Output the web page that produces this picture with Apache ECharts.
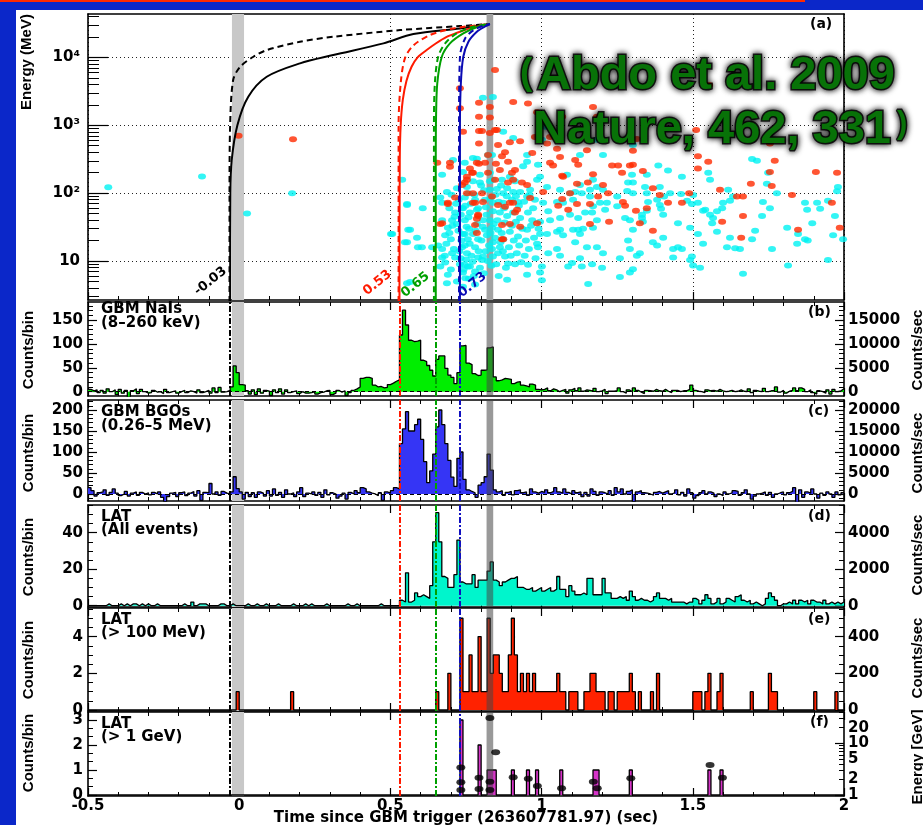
<!DOCTYPE html>
<html><head><meta charset="utf-8">
<script src="https://cdn.jsdelivr.net/npm/echarts@6/dist/echarts.min.js"></script>
<style>html,body{margin:0;padding:0;background:#0b27c9;overflow:hidden}#c{width:923px;height:825px}</style>
</head><body><div id="c"></div>
<script>
// ---------------- DATA ----------------
const X_MIN = -0.5, X_MAX = 2.0, BIN_W = 0.01, NBIN = 250;
const xTitle = 'Time since GBM trigger (263607781.97) (sec)';

// Panel (a): photon arrival time (s) vs energy (MeV)
const redPhotons = [[-0.002,700],[0.178,620],[0.846,6500],[1.554,3900],[1.17,1850],[1.183,1330],[1.068,1330],[0.906,2200],[0.955,2100],[0.985,1550],[0.829,1850],[0.829,1300],[0.793,2150],[0.793,1330],[1.511,850],[0.829,770],[0.852,850],[0.793,820],[0.793,540],[0.856,510],[0.895,560],[0.929,580],[0.978,670],[1.028,670],[1.018,540],[1.315,630],[1.302,420],[1.051,450],[1.15,430],[1.755,540],[1.517,350],[1.551,290],[1.771,300],[1.755,205],[1.907,205],[1.977,200],[1.517,230],[1.59,112],[1.646,89],[1.666,89],[1.692,138],[1.761,128],[1.828,94],[1.96,72],[1.488,100],[1.464,72],[1.418,72],[1.597,38],[1.666,46],[1.66,22],[1.848,29],[1.986,31],[1.391,94],[1.368,118],[1.335,212],[1.302,261],[1.292,255],[1.266,200],[1.233,255],[1.253,255],[1.17,190],[1.153,143],[1.203,132],[1.22,100],[1.187,89],[1.117,138],[1.094,100],[1.068,82],[1.055,65],[1.117,69],[1.088,57],[1.16,69],[1.269,74],[1.276,65],[1.312,55],[1.348,60],[1.325,36],[1.368,28],[1.223,38],[1.16,35],[1.061,340],[1.111,309],[1.121,261],[1.028,280],[1.038,255],[1.068,180],[1.071,175],[1.005,104],[0.962,85],[0.935,143],[0.952,132],[0.889,143],[0.902,200],[0.912,220],[0.889,290],[0.869,350],[0.849,270],[0.862,220],[0.813,280],[0.793,270],[0.763,230],[0.773,200],[0.753,175],[0.746,143],[0.753,100],[0.773,100],[0.803,100],[0.836,89],[0.895,72],[0.856,67],[0.879,63],[0.912,52],[0.919,57],[0.773,72],[0.790,46],[0.780,34],[0.869,34],[0.895,35],[0.929,32],[0.873,21],[0.985,36],[0.740,800],[0.803,820],[0.846,850],[0.969,390],[0.879,400],[0.823,366],[0.786,280],[0.697,280],[0.655,280],[0.697,245],[0.770,200],[0.753,157],[0.737,132],[0.823,200],[0.846,157],[0.906,157],[0.714,86],[0.690,72],[0.780,72],[0.806,74],[0.906,72],[0.790,48],[0.786,42],[0.671,36],[0.786,26],[0.869,21],[0.730,3500],[0.730,1780],[0.665,35],[0.690,69]];
const cyanPhotons = [[-0.433,122],[-0.123,176],[0.175,100],[0.026,50],[0.502,25],[0.539,157],[0.555,69],[0.555,19],[0.591,16],[0.506,25],[0.559,29],[0.555,4.7],[0.588,22],[0.607,60],[0.565,29],[0.548,19],[0.604,16],[0.638,16],[0.658,17],[0.671,15],[0.671,11.3],[0.681,9.5],[0.665,8.3],[0.690,6.3],[0.687,4.7],[0.565,4.9],[0.704,13],[0.714,11.3],[0.681,24],[0.690,31],[0.704,40],[0.671,40],[0.714,52],[0.737,60],[0.746,25],[0.737,16],[0.756,8.3],[0.780,7],[0.803,10.4],[0.746,86],[0.786,320],[0.707,309],[0.671,186],[0.687,104],[0.720,118],[0.671,72],[0.665,86],[0.555,67],[0.72,5],[0.74,4.2],[0.76,5.5],[0.78,4.5],[0.70,7.5],[0.73,9],[0.68,12],[0.75,10.5],[0.71,15],[0.735,20],[0.76,30],[0.72,35],[0.70,21],
[0.806,2550],[0.839,2600],[1.012,950],[0.873,800],[0.906,650],[1.183,610],[1.302,510],[1.001,610],[1.127,366],[1.203,366],[0.836,366],[0.952,366],[1.386,255],[1.418,215],[1.464,175],[1.348,186],[1.302,143],[1.696,318],[1.712,300],[1.749,200],[1.745,138],[1.778,100],[1.98,123],[1.977,107],[1.947,77],[1.871,72],[1.911,72],[1.921,59],[1.878,57],[1.97,46],[1.895,36],[1.812,31],[1.848,25],[1.845,18],[1.871,21],[1.88,20],[1.964,24],[1.997,21],[1.947,10.4],[1.815,8.6],[1.762,15],[1.732,74],[1.755,60],[1.729,46],[1.706,28],[1.656,15],[1.666,6.5],[1.613,16],[1.64,15.5],[1.623,22],[1.696,21],[1.58,27],[1.564,36],[1.597,60],[1.6,72],[1.623,77],[1.633,89],[1.617,112],[1.58,54],[1.567,43],[1.541,57],[1.517,72],[1.497,69],[1.491,31],[1.517,25],[1.534,18],[1.497,11.7],[1.501,8.6],[1.524,8],[1.491,10.4],[1.464,15],[1.451,16],[1.435,11.3],[1.402,22],[1.382,17],[1.368,19],[1.348,55],[1.332,43],[1.402,48],[1.405,89],[1.425,100],[1.461,97],[1.391,67],[1.395,59],[1.335,38],[1.292,40],[1.276,43],[1.302,29],[1.286,20],[1.292,15],[1.302,7.6],[1.292,6.8],[1.259,5.8],[1.315,12],[1.325,13],[1.259,11],[1.203,13],[1.2,8],[1.167,9],[1.154,4.6],[1.133,8.3],[1.127,11],[1.088,8.3],[1.101,9.4],[1.061,12],[1.051,15],[1.022,13],[0.995,6.8],[1.001,5.2],[1.001,8.3],[0.955,8.8],[0.952,6.3],[0.912,9],[0.886,5.3],[0.879,11.7],[0.889,9.2],[0.856,13],[0.862,16],[0.836,15],[0.839,11.7],[0.806,11.7],[0.790,11.3],[0.780,16],[0.763,8.3],[0.746,8.8],[0.753,13],[0.740,6.8],[0.746,17],[0.740,25],[0.756,21],[0.790,21],[0.773,25],[0.819,24],[0.839,19],[0.813,29],[0.836,31],[0.856,29],[0.895,27],[0.873,21],[0.922,23],[0.952,29],[0.995,25],[0.988,16],[0.985,18],[1.018,25],[1.051,27],[1.061,29],[1.071,24],[1.104,29],[1.111,19],[1.121,29],[1.127,25],[1.15,16],[1.183,16],[1.17,31],[1.137,30],[1.183,40],[1.167,52],[1.144,52],[1.121,43],[1.094,48],[1.061,43],[1.022,54],[1.028,40],[0.995,38],[0.969,40],[0.955,52],[0.929,43],[0.906,52],[0.886,46],[0.862,52],[0.839,54],[0.829,40],[0.806,40],[0.786,57],[0.763,52],[0.746,40],[0.740,60],[0.780,80],[0.813,80],[0.839,72],[0.873,72],[0.902,80],[0.922,74],[0.952,89],[0.972,60],[1.005,72],[1.051,74],[1.071,72],[1.104,80],[1.133,100],[1.16,89],[1.17,64],[1.193,72],[1.216,72],[1.21,57],[1.25,89],[1.283,108],[1.302,100],[1.348,100],[1.25,64],[1.094,100],[1.111,104],[1.061,112],[1.018,123],[0.995,175],[0.985,157],[0.962,112],[0.929,104],[0.906,104],[0.886,118],[0.873,100],[0.852,115],[0.829,112],[0.829,150],[0.796,143],[0.839,157],[0.869,157],[0.895,175],[0.912,150],[0.939,250],[0.952,290],[0.988,261],[0.829,200],[0.796,186],[0.773,150],[0.753,123],[0.740,205],[0.773,330],[0.823,366],[0.746,280],[1.084,186],[1.127,132],[1.17,157],[1.183,123],[1.16,112],[1.203,112],[1.286,143],[1.342,123],[1.391,123],[1.299,186],[1.352,74],[1.382,80],[1.481,77],[1.451,36],[1.435,15],[1.501,94],[1.534,55],[1.557,48],[1.551,200],[1.557,157],[1.332,48],
[0.685,18],[0.695,26],[0.705,33],[0.712,45],[0.725,28],[0.728,14],[0.732,11],[0.742,7.5],[0.748,5.6],[0.752,32],[0.758,44],[0.762,18],[0.768,12],[0.772,9.8],[0.776,6],[0.782,28],[0.786,35],[0.792,14],[0.796,8],[0.801,20],[0.805,32],[0.809,6.6],[0.815,14],[0.818,48],[0.822,10],[0.826,17],[0.831,26],[0.834,8.5],[0.842,35],[0.846,22],[0.85,9],[0.854,40],[0.858,6],[0.864,19],[0.868,26],[0.872,14],[0.878,37],[0.882,8],[0.892,16],[0.898,12],[0.902,33],[0.908,20],[0.915,38],[0.918,13],[0.926,17],[0.932,9.6],[0.936,30],[0.944,12],[0.948,20],[0.958,15],[0.965,33],[0.975,22],[0.98,11],[0.99,30],[0.695,60],[0.702,95],[0.717,70],[0.726,80],[0.733,48],[0.748,65],[0.758,100],[0.766,70],[0.778,95],[0.79,60],[0.80,130],[0.81,110],[0.816,62],[0.832,85],[0.848,95],[0.858,75],[0.866,130],[0.876,60],[0.885,90],[0.915,90],[0.925,65],[0.942,75],[0.96,95],[0.978,80]];

// Panel (a): delay curves [time, energy MeV]
const curveBlackSolid = [[-0.03,2.5],[-0.029,100],[-0.025,300],[-0.006,1000],[0.030,2630],[0.091,5180],[0.201,8160],[0.311,10800],[0.477,16060],[0.576,22000],[0.730,26700],[0.829,31000]];
const curveBlackDash  = [[-0.032,2.5],[-0.032,100],[-0.03,1000],[-0.02,4640],[0.003,7260],[0.047,10200],[0.091,12800],[0.201,16960],[0.311,20100],[0.532,25200],[0.730,28900],[0.829,31000]];
const curveRedSolid   = [[0.53,2.5],[0.531,300],[0.534,1000],[0.541,2360],[0.553,4500],[0.570,7260],[0.590,10000],[0.620,12800],[0.650,16000],[0.686,20000],[0.72,23000],[0.763,26700],[0.829,31000]];
const curveRedDash    = [[0.527,2.5],[0.527,1000],[0.534,4140],[0.548,9660],[0.576,15000],[0.631,21300],[0.708,26700],[0.829,31000]];
const curveGreenSolid = [[0.650,2.5],[0.650,300],[0.651,1330],[0.655,4140],[0.670,10200],[0.697,16060],[0.741,22500],[0.785,27700],[0.829,31000]];
const curveGreenDash  = [[0.644,2.5],[0.644,1000],[0.647,4140],[0.658,10200],[0.681,16060],[0.719,22500],[0.774,28300],[0.829,31000]];
const curveBlueSolid  = [[0.730,2.5],[0.730,1000],[0.733,4140],[0.741,10200],[0.758,17000],[0.785,23600],[0.813,28500],[0.829,31000]];
const curveBlueDash   = [[0.727,2.5],[0.727,1000],[0.730,10200],[0.747,19000],[0.774,25000],[0.807,29200],[0.829,31000]];

// Panels (b)-(d): counts per 0.01 s bin, bins start at -0.5
const gbmNaI = [5,2,4,-2,3,-3,6,0,4,-6, 5,-3,3,-12,2,6,-4,5,0,-3, -2,3,-1,0,-4,5,-2,0,2,-3, 0,3,-2,2,0,-3,4,-2,0,3, -3,8,-2,9,-1,0,3,10,54,40, 15,14,2,-5,4,-6,6,-3,3,1, -8,4,-2,6,-5,4,-2,0,2,-4, 0,-3,-3,-2,0,-5,-2,-1,2,3, -6,-3,3,-1,2,-8,-2,3,6,10, 28,30,30,28,14,10,11,8,9,15, 18,22,25,119,171,140,108,105,106,108, 66,63,55,45,33,68,75,75,49,35, 30,17,40,96,97,60,57,38,34,35, 45,46,92,94,31,23,25,28,27,26, 17,20,21,14,12,10,16,14,5,4, 5,8,2,6,4,0,3,5,-3,4, 7,2,8,1,4,3,1,7,0,2, 5,-4,1,1,2,8,0,-3,4,0, 8,3,-1,-4,3,2,1,5,2,1, 5,1,-2,3,3,0,2,2,5,14, 3,1,0,-2,4,2,3,1,5,2, 0,1,3,0,1,4,1,0,6,-2, 3,1,0,7,0,2,2,10,-1,3, -3,1,3,8,2,8,5,0,4,-2, -5,2,0,-3,4,-5,5,0,2,6];
const gbmBGO = [15,8,-5,3,5,10,-3,4,12,2, -4,0,6,-5,2,5,-3,4,0,3, -2,4,0,5,-8,-18,-6,2,4,-6, 3,5,-4,2,6,-5,8,-15,4,3, 25,0,5,-3,6,2,0,5,41,13, 5,-12,4,-6,3,-8,5,2,-5,8, -5,12,-3,4,-8,10,0,3,-6,5, 15,-6,2,0,5,-3,4,-8,10,-2, 3,0,-10,-5,2,-12,4,0,8,3, 15,12,5,2,0,-4,3,-15,5,2, 8,15,12,120,155,196,150,150,165,178, 130,77,27,55,95,160,200,165,120,80, 40,18,85,100,35,10,6,3,-8,21, 27,41,95,57,10,5,8,-3,4,6, -2,8,10,3,5,-3,12,5,2,6, 4,10,3,6,15,5,2,12,4,0, 8,3,5,-6,4,-5,12,6,-3,5, 3,0,8,-3,15,5,12,0,6,10, -18,5,8,3,2,0,-3,4,6,2, 5,8,0,3,10,-2,4,-5,12,3, -10,-4,3,8,0,5,2,-6,0,-4, 5,0,3,8,6,-3,3,10,0,-12, -5,0,2,5,-3,4,-8,0,3,5, -2,3,6,15,-20,10,-8,5,2,12, 0,-10,2,-3,5,0,-8,5,-2,3];
const latAll = [0,0,0,0,0,0,1,0,0,0, 1,0,1,0,1,1,0,1,0,1, 0,0,1,0,0,0,0,0,0,0, 0,1,0,0,2,0,1,1,1,0, 0,0,0,1,1,0,0,1,0,0, 0,0,1,0,0,1,0,0,1,0, 0,0,1,0,0,0,0,1,0,0, 0,1,0,1,0,0,0,0,1,0, 0,0,0,0,0,1,0,0,1,0, 0,0,0,0,0,0,1,0,0,0, 0,0,0,3,2,18,2,3,7,5, 6,5,4,11,35,51,35,16,15,10, 10,17,36,13,12,12,12,17,10,14, 14,14,19,24,14,13,11,13,14,15, 15,16,10,10,9,9,10,8,9,10, 8,9,10,8,9,16,9,9,5,11, 8,6,6,7,6,15,15,6,6,6, 15,7,7,4,4,5,4,5,3,8, 5,3,4,3,3,2,3,5,7,4, 4,3,4,2,2,2,2,1,2,2, 4,3,1,3,6,4,1,2,4,1, 2,4,3,2,5,6,3,2,3,1, 2,1,0,1,4,7,5,3,0,1, 1,2,1,3,1,3,2,3,1,3, 2,2,1,3,1,2,1,2,1,2];
// Panels (e),(f): non-empty bins [bin start (s), counts]
const lat100 = [[-0.01,1],[0.17,1],[0.65,1],[0.69,2],[0.73,5],[0.74,1],[0.75,1],[0.76,3],[0.77,1],[0.78,1],[0.79,4],[0.80,1],[0.81,1],[0.82,5],[0.83,2],[0.84,3],[0.85,3],[0.86,2],[0.87,1],[0.88,1],[0.89,3],[0.90,5],[0.91,3],[0.92,1],[0.93,2],[0.94,1],[0.95,2],[0.96,1],[0.97,2],[0.98,1],[0.99,1],[1.00,1],[1.01,1],[1.02,1],[1.03,1],[1.04,1],[1.05,2],[1.06,1],[1.07,1],[1.09,1],[1.10,1],[1.11,1],[1.14,1],[1.15,1],[1.16,2],[1.17,2],[1.18,1],[1.19,1],[1.20,1],[1.22,1],[1.23,1],[1.25,1],[1.26,1],[1.27,1],[1.28,1],[1.29,2],[1.30,1],[1.32,1],[1.36,1],[1.38,2],[1.50,1],[1.51,1],[1.52,1],[1.54,1],[1.55,2],[1.58,1],[1.59,2],[1.69,1],[1.75,2],[1.76,1],[1.77,1],[1.90,1],[1.97,1]];
const lat1GeV = [[0.73,3],[0.79,2],[0.82,1],[0.83,1],[0.84,1],[0.90,1],[0.95,1],[0.98,1],[1.06,1],[1.17,1],[1.18,1],[1.29,1],[1.55,1],[1.59,1]];
// Panel (f) photon energies [time s, energy GeV]
const gevPhotons = [[0.733,3.4],[0.733,1.76],[0.733,1.25],[0.793,2.16],[0.793,1.3],[0.829,31],[0.829,1.8],[0.829,1.25],[0.848,6.7],[0.906,2.2],[0.956,2.05],[0.986,1.5],[1.066,1.35],[1.171,1.8],[1.184,1.35],[1.295,2.1],[1.557,3.8],[1.598,2.16]];

// reference times / bands
const refLines = [[-0.03,'#000000'],[0.53,'#ff1a00'],[0.65,'#00a000'],[0.73,'#1010c0']];
const lightBand = [-0.024, 0.016];
const darkBand = [0.818, 0.840];

// tick values
const aMajor = [10,100,1000,10000];
const aMinor = [3,4,5,6,7,8,9,20,30,40,50,60,70,80,90,200,300,400,500,600,700,800,900,2000,3000,4000,5000,6000,7000,8000,9000,20000,30000,40000];
const aLabels = {10:'10',100:'10²',1000:'10³',10000:'10⁴'};
const bMajor=[0,50,100,150], bMinor=[10,20,30,40,60,70,80,90,110,120,130,140,160,170,180];
const bRMajor=[0,5000,10000,15000], bRMinor=[1000,2000,3000,4000,6000,7000,8000,9000,11000,12000,13000,14000,16000,17000,18000];
const cMajor=[0,50,100,150,200], cMinor=[-10,10,20,30,40,60,70,80,90,110,120,130,140,160,170,180,190,210,220];
const cRMajor=[0,5000,10000,15000,20000], cRMinor=[-1000,1000,2000,3000,4000,6000,7000,8000,9000,11000,12000,13000,14000,16000,17000,18000,19000,21000,22000];
const dMajor=[0,20,40], dMinor=[5,10,15,25,30,35,45,50,55];
const dRMajor=[0,2000,4000], dRMinor=[500,1000,1500,2500,3000,3500,4500,5000,5500];
const eMajor=[0,2,4], eMinor=[0.5,1,1.5,2.5,3,3.5,4.5,5,5.5];
const eRMajor=[0,200,400], eRMinor=[50,100,150,250,300,350,450,500,550];
const fMajor=[0,1,2,3], fMinor=[0.333,0.667,1.333,1.667,2.333,2.667];
const fRMajor=[1,10], fRLabels=[1,2,5,10,20], fRMinor=[2,3,4,5,6,7,8,9,20,30,40];

// ---------------- BUILD ----------------
const FONT = '"DejaVu Sans", "Liberation Sans", sans-serif';
const NARROW = '"Liberation Sans Narrow", "Liberation Sans", Arial, sans-serif';
const grids = [
  {left:88, width:756, top:14,  height:286},
  {left:88, width:756, top:302, height:94},
  {left:88, width:756, top:400, height:101},
  {left:88, width:756, top:505, height:102},
  {left:88, width:756, top:608, height:103},
  {left:88, width:756, top:712, height:84}
].map(g => Object.assign({outerBoundsMode:'none', containLabel:false}, g));

function binStart(i){ return +(X_MIN + i*BIN_W).toFixed(2); }
function dense(pairs){ const a = new Array(NBIN).fill(0); pairs.forEach(([t,c]) => { a[Math.round((t - X_MIN)/BIN_W)] = c; }); return a; }
function histData(vals){ const d = vals.map((v,i) => [binStart(i), v]); d.push([X_MAX, vals[vals.length-1]]); return d; }
const plainNum = v => String(Math.round(v*1000)/1000);

const xAxes = [];
for (let p = 0; p < 6; p++) {
  xAxes.push({type:'value', gridIndex:p, position:'bottom', min:X_MIN, max:X_MAX, interval:0.5,
    axisLine:{show:true, onZero:false, lineStyle:{color:'#000', width:1.6}},
    axisTick:{show:true, inside:true, length:8, lineStyle:{color:'#000', width:1.2}},
    minorTick:{show:true, splitNumber:5, length:4, lineStyle:{color:'#000', width:1}},
    axisLabel:{show:p===5, margin:3, color:'#000', fontFamily:FONT, fontWeight:'bold', fontSize:15, formatter:plainNum},
    splitLine:{show:p===0, lineStyle:{color:'#222', type:[1,3], width:1}},
    minorSplitLine:{show:false}});
  xAxes.push({type:'value', gridIndex:p, position:'top', min:X_MIN, max:X_MAX, interval:0.5,
    axisLine:{show:true, onZero:false, lineStyle:{color:'#000', width:1.6}},
    axisTick:{show:p>0, inside:true, length:8, lineStyle:{color:'#000', width:1.2}},
    minorTick:{show:p>0, splitNumber:5, length:4, lineStyle:{color:'#000', width:1}},
    axisLabel:{show:false}, splitLine:{show:false}});
}

const yAxes = [];
function addY(p, side, o) {
  yAxes.push({type:o.type||'value', gridIndex:p, position:side, min:o.min, max:o.max,
    axisLine:{show:true, onZero:false, lineStyle:{color:'#000', width:1.6}},
    axisTick:{show:!!o.major, inside:true, length:o.majLen||9, customValues:o.major||[], lineStyle:{color:'#000', width:1.2}},
    axisLabel: o.labels ? {show:true, customValues:o.labels, formatter:o.fmt||plainNum, margin:o.margin||5, color:'#000', fontFamily:FONT, fontWeight:'bold', fontSize:15} : {show:false},
    splitLine: o.split ? {show:true, lineStyle:{color:'#222', type:[1,3], width:1}} : {show:false},
    minorTick:{show:false}, minorSplitLine:{show:false}});
  yAxes.push({type:o.type||'value', gridIndex:p, position:side, min:o.min, max:o.max,
    axisLine:{show:false, onZero:false},
    axisTick:{show:!!o.minor, inside:true, length:o.minLen||5, customValues:o.minor||[], lineStyle:{color:'#000', width:1}},
    axisLabel:{show:false}, splitLine:{show:false}, minorTick:{show:false}});
}
addY(0,'left',{type:'log', min:2.67, max:43500, major:aMajor, minor:aMinor, labels:aMajor, fmt:v=>aLabels[Math.round(v)]||'', majLen:20, minLen:11, split:true, margin:8});
addY(0,'right',{type:'log', min:2.67, max:43500});
addY(1,'left',{min:-9, max:188.2, major:bMajor, minor:bMinor, labels:bMajor});
addY(1,'right',{min:-900, max:18820, major:bRMajor, minor:bRMinor, labels:bRMajor, margin:4});
addY(2,'left',{min:-16.7, max:223.8, major:cMajor, minor:cMinor, labels:cMajor});
addY(2,'right',{min:-1670, max:22380, major:cRMajor, minor:cRMinor, labels:cRMajor, margin:4});
addY(3,'left',{min:-0.71, max:55.2, major:dMajor, minor:dMinor, labels:dMajor});
addY(3,'right',{min:-71, max:5520, major:dRMajor, minor:dRMinor, labels:dRMajor, margin:4});
addY(4,'left',{min:-0.055, max:5.56, major:eMajor, minor:eMinor, labels:eMajor});
addY(4,'right',{min:-5.5, max:556, major:eRMajor, minor:eRMinor, labels:eRMajor, margin:4});
addY(5,'left',{min:-0.04, max:3.32, major:fMajor, minor:fMinor, labels:fMajor});
addY(5,'right',{type:'log', min:0.956, max:40.3, major:fRMajor, minor:fRMinor, labels:fRLabels, margin:4});

const series = [];
series.push({type:'scatter', xAxisIndex:0, yAxisIndex:0, data:cyanPhotons, symbol:'circle', symbolSize:[8,6],
  itemStyle:{color:'#00f2f2'}, z:2, silent:true,
  markArea:{silent:true, z:1, data:[[{xAxis:lightBand[0], itemStyle:{color:'#c8c8c8'}},{xAxis:lightBand[1]}],[{xAxis:darkBand[0], itemStyle:{color:'#a2a2a2'}},{xAxis:darkBand[1]}]]}});
series.push({type:'scatter', xAxisIndex:0, yAxisIndex:0, data:redPhotons, symbol:'circle', symbolSize:[8,6],
  itemStyle:{color:'#ff2a00'}, z:3, silent:true});
[[curveBlackSolid,'#000000','solid'],[curveBlackDash,'#000000',[6,4]],
 [curveRedSolid,'#ff1a00','solid'],[curveRedDash,'#ff1a00',[6,4]],
 [curveGreenSolid,'#00a000','solid'],[curveGreenDash,'#00a000',[6,4]],
 [curveBlueSolid,'#0a0ab4','solid'],[curveBlueDash,'#0a0ab4',[6,4]]].forEach(([d,c,t]) => {
  series.push({type:'line', xAxisIndex:0, yAxisIndex:0, data:d, smooth:0.3, showSymbol:false, symbol:'none',
    lineStyle:{color:c, width:2, type:t}, z:4, silent:true});
});

function refMarkLine(withZero){
  const data = refLines.map(([x,c]) => ({xAxis:x, lineStyle:{color:c, type:[6,2,2,2], width:2}}));
  if (withZero) data.push({yAxis:0, lineStyle:{color:'#000', type:[4,3], width:1}});
  return {silent:true, symbol:['none','none'], z:5, label:{show:false}, data};
}
function histPanel(p, vals, fill, withZero){
  series.push({type:'line', xAxisIndex:2*p, yAxisIndex:4*p, data:histData(vals), step:'end', showSymbol:false, symbol:'none',
    lineStyle:{color:'#000', width:1.3}, areaStyle:{color:fill, opacity:1}, z:2, silent:true,
    markArea:{silent:true, z:1, itemStyle:{color:'#c8c8c8'}, data:[[{xAxis:lightBand[0]},{xAxis:lightBand[1]}]]},
    markLine:refMarkLine(withZero)});
  series.push({type:'line', xAxisIndex:2*p, yAxisIndex:4*p, data:[], silent:true,
    markArea:{silent:true, z:6, itemStyle:{color:'rgba(70,70,70,0.55)'}, data:[[{xAxis:darkBand[0]},{xAxis:darkBand[1]}]]}});
}
histPanel(1, gbmNaI, '#00ee00', true);
histPanel(2, gbmBGO, '#3535f5', true);
histPanel(3, latAll, '#00f5cc', false);
histPanel(4, dense(lat100), '#ff2200', false);
histPanel(5, dense(lat1GeV), '#d633c8', false);
series.push({type:'scatter', xAxisIndex:10, yAxisIndex:22, data:gevPhotons, symbol:'circle', symbolSize:[9,6],
  itemStyle:{color:'#000'}, z:7, silent:true});

function txt(text, x, y, o){
  o = o || {};
  const st = {text, fill:o.color||'#000', font:o.font||('bold 15px '+FONT), textAlign:o.align||'left', textVerticalAlign:o.va||'top'};
  if (o.shadow) { st.textShadowColor = '#000'; st.textShadowBlur = o.shadow; st.stroke = 'rgba(0,0,0,0.85)'; st.lineWidth = 3; }
  return {type:'text', x, y, rotation:o.rot||0, z:o.z||50, silent:true, style:st};
}
const R90 = Math.PI/2;
const TITLE_GREEN = '#087208';
const graphics = [
  {type:'rect', shape:{x:16, y:10, width:907, height:815}, style:{fill:'#ffffff'}, z:-10, silent:true},
  {type:'rect', shape:{x:0, y:0, width:805, height:2}, style:{fill:'#ff2a00'}, z:-10, silent:true},
  txt('Energy (MeV)', 27, 62, {rot:R90, align:'center', va:'middle', font:'bold 15px '+NARROW}),
  txt('Counts/bin', 29, 350, {rot:R90, align:'center', va:'middle', font:'bold 15px '+NARROW}),
  txt('Counts/bin', 29, 453, {rot:R90, align:'center', va:'middle', font:'bold 15px '+NARROW}),
  txt('Counts/bin', 29, 557, {rot:R90, align:'center', va:'middle', font:'bold 15px '+NARROW}),
  txt('Counts/bin', 29, 660, {rot:R90, align:'center', va:'middle', font:'bold 15px '+NARROW}),
  txt('Counts/bin', 29, 753, {rot:R90, align:'center', va:'middle', font:'bold 15px '+NARROW}),
  txt('Counts/sec', 918, 350, {rot:R90, align:'center', va:'middle', font:'bold 15px '+NARROW}),
  txt('Counts/sec', 918, 453, {rot:R90, align:'center', va:'middle', font:'bold 15px '+NARROW}),
  txt('Counts/sec', 918, 555, {rot:R90, align:'center', va:'middle', font:'bold 15px '+NARROW}),
  txt('Counts/sec', 918, 658, {rot:R90, align:'center', va:'middle', font:'bold 15px '+NARROW}),
  txt('Energy [GeV]', 918, 757, {rot:R90, align:'center', va:'middle', font:'bold 15px '+NARROW}),
  txt('GBM NaIs', 101, 302), txt('(8–260 keV)', 101, 316),
  txt('GBM BGOs', 101, 405), txt('(0.26–5 MeV)', 101, 419),
  txt('LAT', 101, 510), txt('(All events)', 101, 523),
  txt('LAT', 101, 613), txt('(> 100 MeV)', 101, 626),
  txt('LAT', 101, 717), txt('(> 1 GeV)', 101, 730),
  txt('(a)', 810, 17, {font:'bold 14px '+FONT}),
  txt('(b)', 808, 305, {font:'bold 14px '+FONT}),
  txt('(c)', 808, 404, {font:'bold 14px '+FONT}),
  txt('(d)', 808, 509, {font:'bold 14px '+FONT}),
  txt('(e)', 808, 612, {font:'bold 14px '+FONT}),
  txt('(f)', 810, 715, {font:'bold 14px '+FONT}),
  txt(xTitle, 466, 818, {align:'center', va:'middle'}),
  txt('-0.03', 200, 298, {rot:0.68, va:'bottom', font:'bold 13px '+FONT, color:'#000'}),
  txt('0.53', 369, 298, {rot:0.68, va:'bottom', font:'bold 13px '+FONT, color:'#ff1a00'}),
  txt('0.65', 407, 300, {rot:0.68, va:'bottom', font:'bold 13px '+FONT, color:'#00a000'}),
  txt('0.73', 464, 300, {rot:0.68, va:'bottom', font:'bold 13px '+FONT, color:'#0a0ab4'}),
  txt('(', 520, 55, {va:'alphabetic', font:'bold 37px "Liberation Sans", Arial', color:TITLE_GREEN, shadow:6, z:100}),
  txt('Abdo et al. 2009', 537, 53, {va:'alphabetic', font:'bold 47px "Liberation Sans", Arial', color:TITLE_GREEN, shadow:6, z:100}),
  txt('Nature, 462, 331', 533, 107, {va:'alphabetic', font:'bold 47px "Liberation Sans", Arial', color:TITLE_GREEN, shadow:6, z:100}),
  txt(')', 897, 109, {va:'alphabetic', font:'bold 31px "Liberation Sans", Arial', color:TITLE_GREEN, shadow:6, z:100})
];

const chart = echarts.init(document.getElementById('c'), null, {renderer:'canvas', width:923, height:825});
chart.setOption({
  backgroundColor:'#0b27c9', animation:false,
  grid:grids, xAxis:xAxes, yAxis:yAxes, series:series, graphic:graphics
});
</script></body></html>
